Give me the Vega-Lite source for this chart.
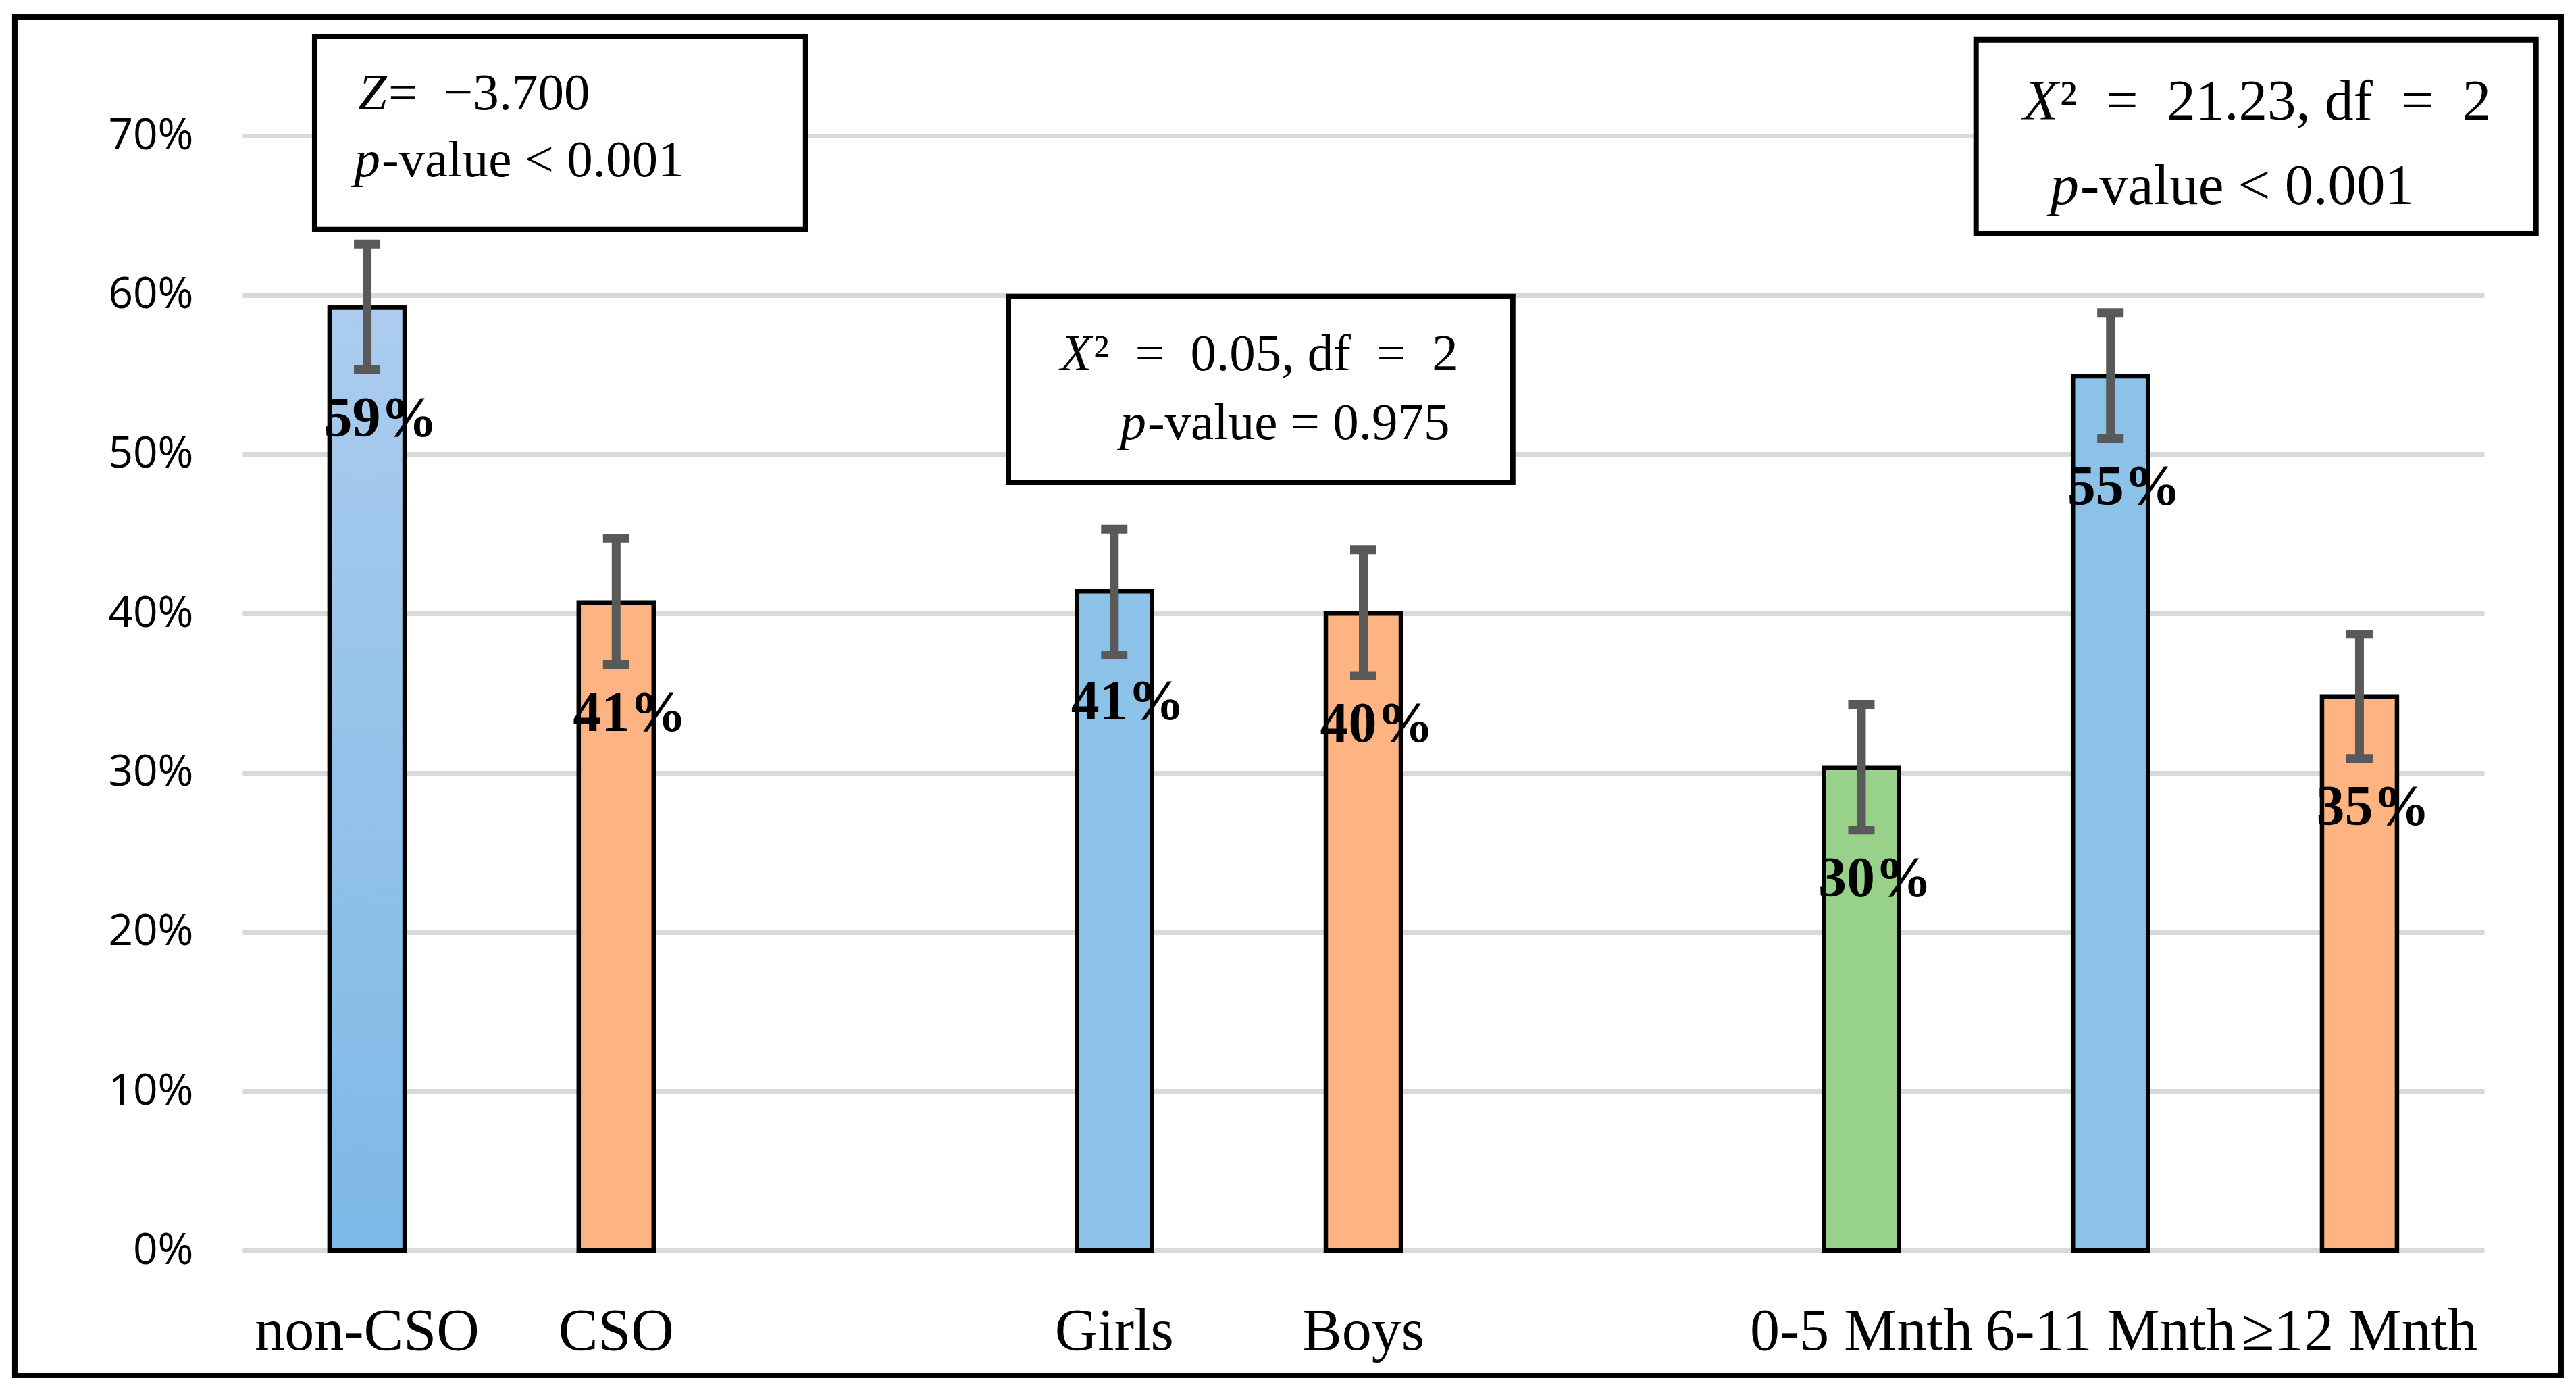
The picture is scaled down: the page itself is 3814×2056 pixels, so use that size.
{
  "$schema": "https://vega.github.io/schema/vega-lite/v6.json",
  "width": 3319,
  "height": 1815,
  "autosize": {"type": "none"},
  "padding": {"left": 359, "top": 36, "right": 136, "bottom": 205},
  "background": "white",
  "config": {"view": {"stroke": null}},
  "layer": [
    {
      "data": {
        "values": [
          {"cat": "non-CSO", "series": "S1", "value": 0.592, "lo": 0.553, "hi": 0.632},
          {"cat": "CSO", "series": "S2", "value": 0.407, "lo": 0.368, "hi": 0.447},
          {"cat": "Girls", "series": "S1", "value": 0.414, "lo": 0.374, "hi": 0.453},
          {"cat": "Boys", "series": "S2", "value": 0.400, "lo": 0.361, "hi": 0.440},
          {"cat": "0-5 Mnth", "series": "S3", "value": 0.303, "lo": 0.264, "hi": 0.343},
          {"cat": "6-11 Mnth", "series": "S1", "value": 0.549, "lo": 0.510, "hi": 0.589},
          {"cat": "≥12 Mnth", "series": "S2", "value": 0.348, "lo": 0.309, "hi": 0.387}
        ]
      },
      "encoding": {
        "x": {
          "field": "cat",
          "type": "nominal",
          "sort": null,
          "scale": {
            "domain": ["non-CSO", "CSO", " ", "Girls", "Boys", "  ", "0-5 Mnth", "6-11 Mnth", "≥12 Mnth"],
            "paddingInner": 0.699,
            "paddingOuter": 0.35
          },
          "axis": {
            "title": null,
            "labelFont": "Liberation Serif",
            "labelFontSize": 88,
            "labelColor": "black",
            "labelPadding": 146,
            "labelBaseline": "alphabetic",
            "labelAngle": 0,
            "ticks": false,
            "tickSize": 0,
            "domain": false,
            "grid": false,
            "labelOverlap": false,
            "labelBound": false,
            "labelLimit": 2000
          }
        }
      },
      "layer": [
        {
          "mark": {"type": "bar", "stroke": "black", "strokeWidth": 6.5},
          "encoding": {
            "y": {
              "field": "value",
              "type": "quantitative",
              "scale": {"domain": [0, 0.77], "nice": false},
              "axis": {
                "title": null,
                "values": [0, 0.1, 0.2, 0.3, 0.4, 0.5, 0.6, 0.7],
                "format": ".0%",
                "labelFont": "Open Sans",
                "labelFontSize": 64,
                "labelColor": "black",
                "labelPadding": 73,
                "ticks": false,
                "tickSize": 0,
                "domain": false,
                "grid": true,
                "gridColor": "#d9d9d9",
                "gridWidth": 7,
                "gridOpacity": 1
              }
            },
            "fill": {
              "field": "series",
              "type": "nominal",
              "scale": {"domain": ["S1", "S2", "S3"], "range": ["#8cc2e8", "#feb382", "#98d28a"]},
              "legend": null
            }
          }
        },
        {
          "transform": [{"filter": "datum.cat === 'non-CSO'"}],
          "mark": {
            "type": "bar",
            "stroke": "black",
            "strokeWidth": 6.5,
            "fill": {
              "gradient": "linear",
              "x1": 0, "y1": 0, "x2": 0, "y2": 1,
              "stops": [
                {"offset": 0, "color": "#abccee"},
                {"offset": 1, "color": "#7db8e6"}
              ]
            }
          },
          "encoding": {
            "y": {"field": "value", "type": "quantitative"}
          }
        },
        {
          "mark": {"type": "rule", "color": "#595959", "strokeWidth": 13},
          "encoding": {
            "y": {"field": "lo", "type": "quantitative"},
            "y2": {"field": "hi"}
          }
        },
        {
          "mark": {"type": "tick", "color": "#595959", "thickness": 13, "size": 39, "orient": "horizontal", "opacity": 1},
          "encoding": {
            "y": {"field": "hi", "type": "quantitative"}
          }
        },
        {
          "mark": {"type": "tick", "color": "#595959", "thickness": 13, "size": 39, "orient": "horizontal", "opacity": 1},
          "encoding": {
            "y": {"field": "lo", "type": "quantitative"}
          }
        },
        {
          "mark": {
            "type": "text",
            "font": "Liberation Serif",
            "fontWeight": "bold",
            "fontSize": 84,
            "color": "black",
            "align": "center",
            "baseline": "alphabetic",
            "dy": 190,
            "dx": 20
          },
          "encoding": {
            "y": {"field": "value", "type": "quantitative"},
            "text": {"field": "value", "type": "quantitative", "format": ".0%"}
          }
        }
      ]
    },
    {
      "layer": [
        {
          "data": {"values": [{"u1": -0.914, "u2": 9.309, "v1": -0.0785, "v2": 0.7747}]},
          "mark": {"type": "rect", "fill": null, "stroke": "black", "strokeWidth": 8},
          "encoding": {
            "x": {"field": "u1", "type": "quantitative", "scale": {"domain": [0, 9], "nice": false, "zero": false}, "axis": null},
            "x2": {"field": "u2"},
            "y": {"field": "v1", "type": "quantitative", "scale": {"domain": [0, 0.77], "nice": false}, "axis": null},
            "y2": {"field": "v2"}
          }
        },
        {
          "data": {
            "values": [
              {"u1": 0.290, "u2": 2.261, "v1": 0.6411, "v2": 0.7624},
              {"u1": 3.075, "u2": 5.100, "v1": 0.4824, "v2": 0.5991},
              {"u1": 6.960, "u2": 9.208, "v1": 0.6385, "v2": 0.7603}
            ]
          },
          "mark": {"type": "rect", "fill": "white", "stroke": "black", "strokeWidth": 8},
          "encoding": {
            "x": {"field": "u1", "type": "quantitative", "scale": {"domain": [0, 9], "nice": false, "zero": false}, "axis": null},
            "x2": {"field": "u2"},
            "y": {"field": "v1", "type": "quantitative", "scale": {"domain": [0, 0.77], "nice": false}, "axis": null},
            "y2": {"field": "v2"}
          }
        },
        {
          "data": {
            "values": [
              {"u": 0.580, "v": 0.7166, "t": "Z"},
              {"u": 0.553, "v": 0.6746, "t": "p"},
              {"u": 3.411, "v": 0.5528, "t": "X"},
              {"u": 3.628, "v": 0.5095, "t": "p"}
            ]
          },
          "mark": {"type": "text", "font": "Liberation Serif", "fontStyle": "italic", "fontSize": 77, "color": "black", "align": "right", "baseline": "alphabetic"},
          "encoding": {
            "x": {"field": "u", "type": "quantitative", "scale": {"domain": [0, 9], "nice": false, "zero": false}, "axis": null},
            "y": {"field": "v", "type": "quantitative", "scale": {"domain": [0, 0.77], "nice": false}, "axis": null},
            "text": {"field": "t"}
          }
        },
        {
          "data": {
            "values": [
              {"u": 0.580, "v": 0.7166, "t": "= \u00a0−3.700"},
              {"u": 0.553, "v": 0.6746, "t": "-value < 0.001"},
              {"u": 3.411, "v": 0.5528, "t": "² \u00a0=\u00a0 0.05, df \u00a0=\u00a0 2"},
              {"u": 3.628, "v": 0.5095, "t": "-value = 0.975"}
            ]
          },
          "mark": {"type": "text", "font": "Liberation Serif", "fontSize": 77, "color": "black", "align": "left", "baseline": "alphabetic", "dx": 2},
          "encoding": {
            "x": {"field": "u", "type": "quantitative", "scale": {"domain": [0, 9], "nice": false, "zero": false}, "axis": null},
            "y": {"field": "v", "type": "quantitative", "scale": {"domain": [0, 0.77], "nice": false}, "axis": null},
            "text": {"field": "t"}
          }
        },
        {
          "data": {
            "values": [
              {"u": 7.291, "v": 0.7102, "t": "X"},
              {"u": 7.373, "v": 0.6572, "t": "p"}
            ]
          },
          "mark": {"type": "text", "font": "Liberation Serif", "fontStyle": "italic", "fontSize": 85, "color": "black", "align": "right", "baseline": "alphabetic"},
          "encoding": {
            "x": {"field": "u", "type": "quantitative", "scale": {"domain": [0, 9], "nice": false, "zero": false}, "axis": null},
            "y": {"field": "v", "type": "quantitative", "scale": {"domain": [0, 0.77], "nice": false}, "axis": null},
            "text": {"field": "t"}
          }
        },
        {
          "data": {
            "values": [
              {"u": 7.291, "v": 0.7102, "t": "² \u00a0=\u00a0 21.23, df \u00a0=\u00a0 2"},
              {"u": 7.373, "v": 0.6572, "t": "-value < 0.001"}
            ]
          },
          "mark": {"type": "text", "font": "Liberation Serif", "fontSize": 85, "color": "black", "align": "left", "baseline": "alphabetic", "dx": 2},
          "encoding": {
            "x": {"field": "u", "type": "quantitative", "scale": {"domain": [0, 9], "nice": false, "zero": false}, "axis": null},
            "y": {"field": "v", "type": "quantitative", "scale": {"domain": [0, 0.77], "nice": false}, "axis": null},
            "text": {"field": "t"}
          }
        }
      ]
    }
  ],
  "resolve": {"scale": {"x": "independent"}, "axis": {"y": "independent"}}
}
